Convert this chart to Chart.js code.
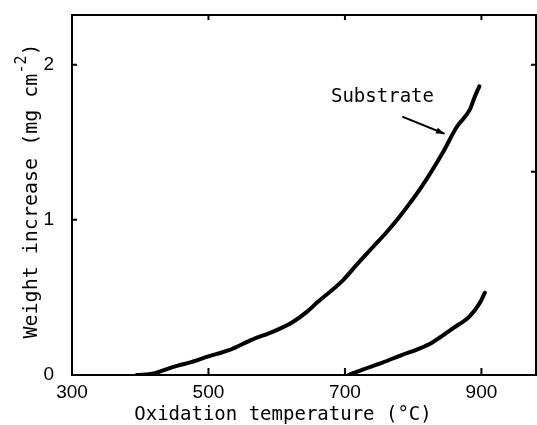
<!DOCTYPE html>
<html>
<head>
<meta charset="utf-8">
<script src="https://cdn.jsdelivr.net/npm/chart.js@4/dist/chart.umd.min.js"></script>
<style>
  body { margin: 0; background: #fff; }
  #wrap { width: 537px; height: 425px; }
</style>
</head>
<body>
<div id="wrap"><canvas id="oxChart"></canvas></div>
<script>
// upper curve (substrate)
const substrateT = [395, 420, 440, 455, 472, 500, 530, 565, 595, 623, 645, 660, 697, 717, 740, 761, 780, 812, 843, 864, 883, 890, 897];
const substrateW = [0.0, 0.01, 0.04, 0.06, 0.08, 0.12, 0.16, 0.23, 0.28, 0.34, 0.41, 0.47, 0.61, 0.71, 0.82, 0.92, 1.02, 1.21, 1.43, 1.60, 1.71, 1.79, 1.86];
// lower curve
const coatedT = [705, 726, 755, 784, 809, 828, 858, 883, 897, 905];
const coatedW = [0.0, 0.035, 0.08, 0.13, 0.17, 0.21, 0.30, 0.38, 0.46, 0.53];

const xTicks = [300, 500, 700, 900];
const yTicks = [0, 1, 2];
const rightTicks = [2, 1.31];

const mono = "'DejaVu Sans Mono', monospace";

function pts(xs, ys) {
    return xs.map((x, i) => ({ x: x, y: ys[i] }));
}

// frame, inner tick marks, axis titles and the "Substrate" pointer
const decor = {
    id: 'decor',
    afterDraw(chart) {
        const ctx = chart.ctx;
        const a = chart.chartArea;
        const xs = chart.scales.x, ys = chart.scales.y;
        ctx.save();
        ctx.strokeStyle = '#000';
        ctx.lineWidth = 2;
        ctx.strokeRect(a.left, a.top, a.right - a.left, a.bottom - a.top);

        ctx.beginPath();
        xTicks.slice(1).forEach(v => {
            const px = xs.getPixelForValue(v);
            ctx.moveTo(px, a.bottom); ctx.lineTo(px, a.bottom - 7);
            ctx.moveTo(px, a.top); ctx.lineTo(px, a.top + 5);
        });
        yTicks.slice(1).forEach(v => {
            const py = ys.getPixelForValue(v);
            ctx.moveTo(a.left, py); ctx.lineTo(a.left + 5, py);
        });
        rightTicks.forEach(v => {
            const py = ys.getPixelForValue(v);
            ctx.moveTo(a.right, py); ctx.lineTo(a.right - 5, py);
        });
        ctx.stroke();

        ctx.fillStyle = '#000';
        ctx.textBaseline = 'middle';

        // x title
        ctx.font = '19px ' + mono;
        ctx.textAlign = 'center';
        ctx.fillText('Oxidation temperature (°C)', 283, 415);

        // y title with superscript
        ctx.save();
        ctx.translate(32, 191);
        ctx.rotate(-Math.PI / 2);
        ctx.textAlign = 'left';
        const t1 = 'Weight increase (mg cm', t2 = '-2', t3 = ')';
        ctx.font = '20px ' + mono;
        const w1 = ctx.measureText(t1).width, w3 = ctx.measureText(t3).width;
        ctx.font = '15px ' + mono;
        const w2 = ctx.measureText(t2).width;
        let x0 = -(w1 + w2 + w3) / 2;
        ctx.font = '20px ' + mono;
        ctx.fillText(t1, x0, 0);
        ctx.font = '15px ' + mono;
        ctx.fillText(t2, x0 + w1, -10);
        ctx.font = '20px ' + mono;
        ctx.fillText(t3, x0 + w1 + w2, 0);
        ctx.restore();

        // annotation
        ctx.font = '19px ' + mono;
        ctx.textAlign = 'center';
        ctx.fillText('Substrate', xs.getPixelForValue(755), ys.getPixelForValue(1.79));
        const x1 = xs.getPixelForValue(784), y1 = ys.getPixelForValue(1.665);
        const x2 = xs.getPixelForValue(846), y2 = ys.getPixelForValue(1.555);
        ctx.lineWidth = 2;
        ctx.beginPath();
        ctx.moveTo(x1, y1); ctx.lineTo(x2, y2);
        ctx.stroke();
        const ang = Math.atan2(y2 - y1, x2 - x1);
        ctx.beginPath();
        ctx.moveTo(x2, y2);
        ctx.lineTo(x2 - 9 * Math.cos(ang - 0.35), y2 - 9 * Math.sin(ang - 0.35));
        ctx.lineTo(x2 - 9 * Math.cos(ang + 0.35), y2 - 9 * Math.sin(ang + 0.35));
        ctx.closePath();
        ctx.fill();
        ctx.restore();
    }
};

new Chart(document.getElementById('oxChart'), {
    type: 'line',
    data: {
        datasets: [
            {
                label: 'Substrate',
                data: pts(substrateT, substrateW),
                borderColor: '#000',
                borderWidth: 4,
                pointRadius: 0,
                cubicInterpolationMode: 'monotone',
                borderCapStyle: 'round'
            },
            {
                label: 'Coated',
                data: pts(coatedT, coatedW),
                borderColor: '#000',
                borderWidth: 4,
                pointRadius: 0,
                cubicInterpolationMode: 'monotone',
                borderCapStyle: 'round'
            }
        ]
    },
    options: {
        responsive: true,
        maintainAspectRatio: false,
        animation: false,
        layout: { padding: { top: 15, right: 1, left: 0, bottom: 0 } },
        plugins: {
            legend: { display: false },
            tooltip: { enabled: false }
        },
        scales: {
            x: {
                type: 'linear',
                min: 300,
                max: 980,
                grid: { display: false },
                border: { display: false },
                afterBuildTicks: s => { s.ticks = xTicks.map(v => ({ value: v })); },
                afterFit: s => { s.height = 50; s.paddingLeft = 0; s.paddingRight = 0; },
                ticks: {
                    color: '#000',
                    padding: -2,
                    maxRotation: 0,
                    font: { family: "'Liberation Sans', Arial, sans-serif", size: 19 }
                }
            },
            y: {
                min: 0,
                max: 2.32,
                grid: { display: false },
                border: { display: false },
                afterBuildTicks: s => { s.ticks = yTicks.map(v => ({ value: v })); },
                afterFit: s => { s.width = 72; s.paddingTop = 0; s.paddingBottom = 0; },
                ticks: {
                    color: '#000',
                    padding: 10,
                    font: { family: "'Liberation Sans', Arial, sans-serif", size: 19 }
                }
            }
        }
    },
    plugins: [decor]
});
</script>
</body>
</html>
